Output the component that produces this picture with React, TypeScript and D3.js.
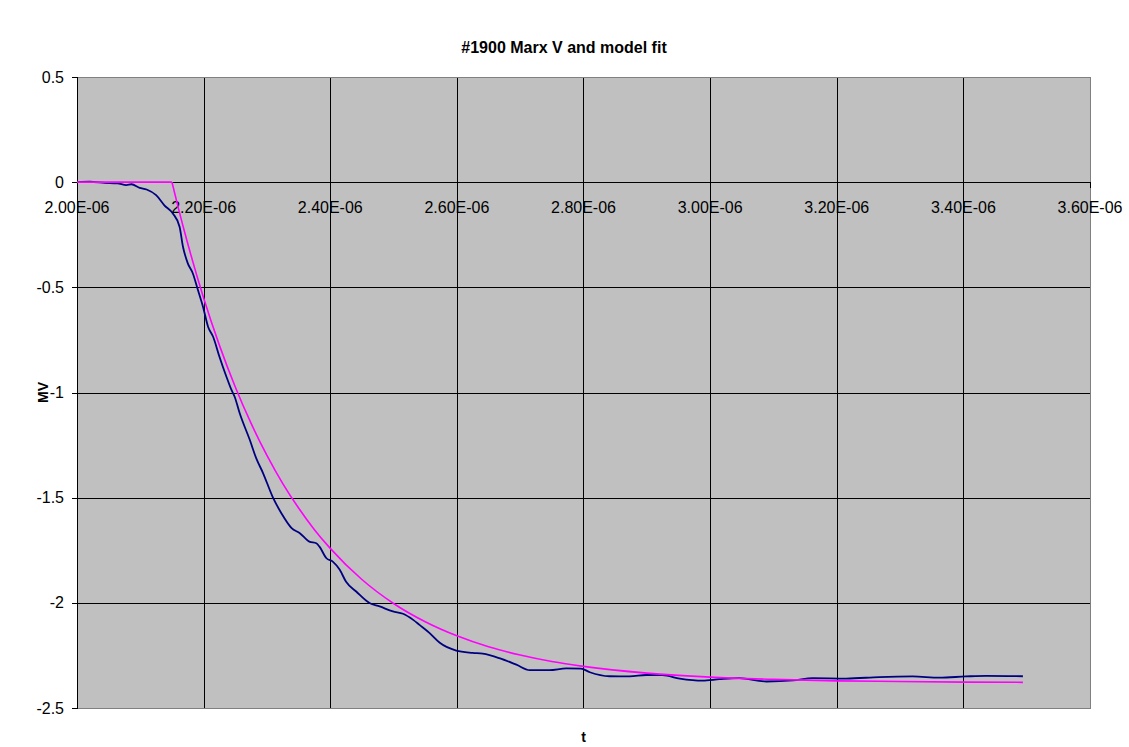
import React from "react";
import * as d3 from "d3";

// time in microseconds (axis labels are in seconds, E-06)
const measuredT = [
  2.0, 2.02, 2.044, 2.064, 2.078, 2.086, 2.099, 2.11, 2.125, 2.138, 2.1514, 2.162, 2.1674, 2.175,
  2.183, 2.191, 2.199, 2.207, 2.215, 2.225, 2.236, 2.244, 2.249, 2.257, 2.273, 2.283, 2.294,
  2.309, 2.323, 2.339, 2.352, 2.367, 2.378, 2.383, 2.394, 2.404, 2.415, 2.425, 2.441, 2.462,
  2.478, 2.499, 2.515, 2.531, 2.541, 2.557, 2.573, 2.599, 2.625, 2.641, 2.667, 2.694, 2.715,
  2.746, 2.773, 2.796, 2.81, 2.841, 2.873, 2.899, 2.925, 2.952, 2.988, 3.015, 3.046, 3.089,
  3.131, 3.162, 3.215, 3.267, 3.32, 3.362, 3.404, 3.436, 3.494,
];
const measuredV = [
  0, 0.002, -0.003, -0.006, -0.014, -0.01, -0.027, -0.035, -0.062, -0.11, -0.149, -0.212, -0.307,
  -0.386, -0.434, -0.513, -0.592, -0.687, -0.735, -0.83, -0.925, -0.988, -1.02, -1.099, -1.226,
  -1.312, -1.384, -1.496, -1.575, -1.645, -1.669, -1.709, -1.717, -1.733, -1.788, -1.804, -1.843,
  -1.9, -1.946, -2.001, -2.017, -2.041, -2.052, -2.081, -2.105, -2.144, -2.19, -2.227, -2.238,
  -2.242, -2.263, -2.294, -2.32, -2.32, -2.312, -2.313, -2.33, -2.349, -2.35, -2.343, -2.344,
  -2.36, -2.37, -2.363, -2.358, -2.374, -2.369, -2.358, -2.36, -2.353, -2.35, -2.356, -2.35,
  -2.347, -2.349,
];

const modelT = [
  2.0, 2.15, 2.16, 2.175, 2.2, 2.225, 2.25, 2.275, 2.3, 2.325, 2.35, 2.375, 2.4, 2.45, 2.5, 2.55,
  2.6, 2.65, 2.7, 2.75, 2.8, 2.9, 3.0, 3.1, 3.2, 3.3, 3.4, 3.494,
];
const modelV = [
  0, 0, -0.122, -0.293, -0.551, -0.776, -0.974, -1.147, -1.299, -1.433, -1.549, -1.652, -1.741,
  -1.889, -2.003, -2.09, -2.157, -2.209, -2.248, -2.279, -2.302, -2.334, -2.353, -2.364, -2.371,
  -2.374, -2.377, -2.378,
];

const xTicks = [2.0, 2.2, 2.4, 2.6, 2.8, 3.0, 3.2, 3.4, 3.6];
const yTicks = [0.5, 0, -0.5, -1, -1.5, -2, -2.5];

const title = "#1900 Marx V and model fit";
const xTitle = "t";
const yTitle = "MV";

export default function App() {
  const W = 1129;
  const H = 747;
  const left = 77;
  const right = 1090;
  const top = 77;
  const bottom = 708;
  const x = d3.scaleLinear().domain([2.0, 3.6]).range([left, right]);
  const y = d3.scaleLinear().domain([-2.5, 0.5]).range([bottom, top]);
  const px = (v: number) => Math.round(v) + 0.5;
  const font = "Liberation Sans, Arial, sans-serif";

  const line = d3
    .line<number>()
    .x((_, i) => x(measuredT[i]))
    .y((d) => y(d))
    .curve(d3.curveMonotoneX);

  const modelPts: [number, number][] = modelT.map((t, i) => [x(t), y(modelV[i])]);
  const flatPart = d3.line().curve(d3.curveLinear)(modelPts.slice(0, 2)) || "";
  const decayPart = d3.line().curve(d3.curveMonotoneX)(modelPts.slice(1)) || "";

  const y0 = px(y(0));

  return (
    <svg
      width={W}
      height={H}
      style={{ position: "absolute", left: 0, top: 0, background: "#fff" }}
      fontFamily={font}
    >
      <rect x={left} y={top} width={right - left} height={bottom - top} fill="#c0c0c0" />
      {yTicks
        .filter((t) => t !== 0.5 && t !== -2.5)
        .map((t) => (
          <line
            key={"hg" + t}
            x1={left}
            x2={right}
            y1={px(y(t))}
            y2={px(y(t))}
            stroke="#000"
            strokeWidth={1}
            shapeRendering="crispEdges"
          />
        ))}
      {xTicks
        .filter((t) => t !== 2.0 && t !== 3.6)
        .map((t) => (
          <line
            key={"vg" + t}
            x1={px(x(t))}
            x2={px(x(t))}
            y1={top}
            y2={bottom}
            stroke="#000"
            strokeWidth={1}
            shapeRendering="crispEdges"
          />
        ))}
      <rect
        x={left + 0.5}
        y={top + 0.5}
        width={right - left}
        height={bottom - top}
        fill="none"
        stroke="#808080"
        strokeWidth={1}
        shapeRendering="crispEdges"
      />
      <line x1={px(left)} x2={px(left)} y1={top} y2={bottom + 1} stroke="#000" shapeRendering="crispEdges" />
      {yTicks.map((t) => (
        <g key={"yt" + t}>
          <line
            x1={left - 5}
            x2={left}
            y1={px(y(t))}
            y2={px(y(t))}
            stroke="#000"
            shapeRendering="crispEdges"
          />
          <text x={64} y={y(t)} dy="0.35em" textAnchor="end" fontSize={16} fill="#000">
            {String(t)}
          </text>
        </g>
      ))}
      <line x1={left} x2={right + 1} y1={y0} y2={y0} stroke="#000" shapeRendering="crispEdges" />
      {xTicks.map((t) => (
        <g key={"xt" + t}>
          <line
            x1={px(x(t))}
            x2={px(x(t))}
            y1={y0}
            y2={y0 + 5}
            stroke="#000"
            shapeRendering="crispEdges"
          />
          <text x={x(t)} y={213} textAnchor="middle" fontSize={16} fill="#000">
            {t.toFixed(2) + "E-06"}
          </text>
        </g>
      ))}
      <path d={line(measuredV) || ""} fill="none" stroke="#000080" strokeWidth={1.8} />
      <path d={flatPart + decayPart} fill="none" stroke="#ff00ff" strokeWidth={1.6} strokeLinejoin="miter" />
      <text x={564} y={53} textAnchor="middle" fontSize={16} fontWeight="bold" fill="#000">
        {title}
      </text>
      <text x={(left + right) / 2} y={742} textAnchor="middle" fontSize={14} fontWeight="bold" fill="#000">
        {xTitle}
      </text>
      <text
        transform={`translate(48,${(top + bottom) / 2}) rotate(-90)`}
        textAnchor="middle"
        fontSize={14}
        fontWeight="bold"
        fill="#000"
      >
        {yTitle}
      </text>
    </svg>
  );
}
